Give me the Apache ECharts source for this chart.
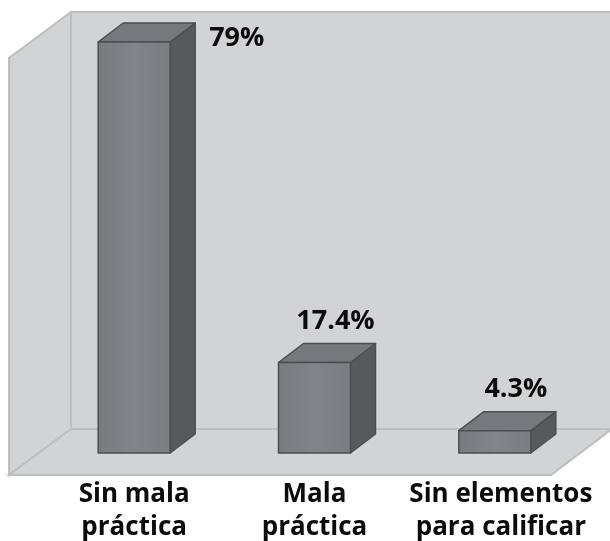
<!DOCTYPE html>
<html>
<head>
<meta charset="utf-8">
<style>
html, body { margin: 0; padding: 0; background: #fff; }
#chart { width: 610px; height: 541px; }
</style>
<script src="https://cdn.jsdelivr.net/npm/echarts@6/dist/echarts.min.js"></script>
</head>
<body>
<div id="chart"></div>
<script>
// Chart data
var categories = ['Sin mala\npráctica', 'Mala\npráctica', 'Sin elementos\npara calificar'];
var values = [79, 17.4, 4.3];
var valueLabels = ['79%', '17.4%', '4.3%'];

var chart = echarts.init(document.getElementById('chart'));

var fontName = '"Open Sans", sans-serif';
var barWidth = 72;
var depthX = 25;
var depthY = 19;

// Back wall, side wall and floor, placed from the grid rectangle
var renderWalls = function(params) {
    var g = params.coordSys;
    var bottom = g.y + g.height;
    var wallStyle = { fill: '#d1d3d4', stroke: '#bcbec0', lineWidth: 2 };
    var poly = function(points) {
        return { type: 'polygon', shape: { points: points }, style: wallStyle };
    };
    return {
        type: 'group',
        children: [
            poly([[g.x + 27, g.y - 30], [g.x + g.width + 27, g.y - 30], [g.x + g.width + 27, bottom - 24], [g.x + 27, bottom - 24]]),
            poly([[g.x - 35, g.y + 16], [g.x + 27, g.y - 30], [g.x + 27, bottom - 24], [g.x - 35, bottom + 22]]),
            poly([[g.x - 35, bottom + 22], [g.x + 27, bottom - 24], [g.x + g.width + 27, bottom - 24], [g.x + g.width - 34, bottom + 22]])
        ]
    };
};

// One box: front, side and top faces plus the value label
var renderBox = function(params, api) {
    var top = api.coord([api.value(0), api.value(1)]);
    var base = api.coord([api.value(0), 0]);
    var x0 = top[0] - barWidth / 2;
    var x1 = top[0] + barWidth / 2;
    var face = function(points, fill) {
        return {
            type: 'polygon',
            shape: { points: points },
            style: { fill: fill, stroke: '#4d4e50', lineWidth: 1.5, lineJoin: 'round' }
        };
    };
    var frontFill = new echarts.graphic.LinearGradient(0, 0, 1, 0, [
        { offset: 0, color: '#797a7d' },
        { offset: 0.5, color: '#838487' },
        { offset: 1, color: '#7b7c7f' }
    ]);
    // tallest box leaves no room above, its label sits beside it
    var tall = top[1] - depthY < 60;
    return {
        type: 'group',
        children: [
            face([[x1, top[1]], [x1 + depthX, top[1] - depthY], [x1 + depthX, base[1] - depthY], [x1, base[1]]], '#58595b'),
            face([[x0, top[1]], [x0 + depthX, top[1] - depthY], [x1 + depthX, top[1] - depthY], [x1, top[1]]], '#77787b'),
            face([[x0, top[1]], [x1, top[1]], [x1, base[1]], [x0, base[1]]], frontFill),
            {
                type: 'text',
                style: {
                    x: tall ? x1 + depthX + 14 : top[0] + 21,
                    y: tall ? top[1] - 4 : top[1] - depthY - 22,
                    text: valueLabels[params.dataIndex],
                    fill: '#0b0b0b',
                    font: 'bold 27px ' + fontName,
                    align: tall ? 'left' : 'center',
                    verticalAlign: 'middle'
                }
            }
        ]
    };
};

chart.setOption({
    animation: false,
    grid: { left: 44, right: 25, top: 42, bottom: 88, outerBoundsMode: 'none' },
    xAxis: {
        type: 'category',
        data: categories,
        axisLine: { show: false },
        axisTick: { show: false },
        axisLabel: {
            interval: 0,
            margin: 25,
            hideOverlap: false,
            color: '#0b0b0b',
            fontFamily: fontName,
            fontWeight: 'bold',
            fontSize: 26,
            lineHeight: 33,
            formatter: function(value, index) {
                var style = index === 2 ? 'shifted' : 'plain';
                return value.split('\n').map(function(line) {
                    return '{' + style + '|' + line + '}';
                }).join('\n');
            },
            rich: {
                plain: {},
                shifted: { padding: [0, 0, 0, 12] }
            }
        }
    },
    yAxis: { type: 'value', min: 0, max: 79, show: false },
    series: [
        {
            type: 'custom',
            z: 1,
            silent: true,
            clip: false,
            renderItem: renderWalls,
            data: [0]
        },
        {
            type: 'custom',
            z: 2,
            clip: false,
            renderItem: renderBox,
            encode: { x: 0, y: 1 },
            data: values.map(function(v, i) { return [i, v]; })
        }
    ]
});
</script>
</body>
</html>
